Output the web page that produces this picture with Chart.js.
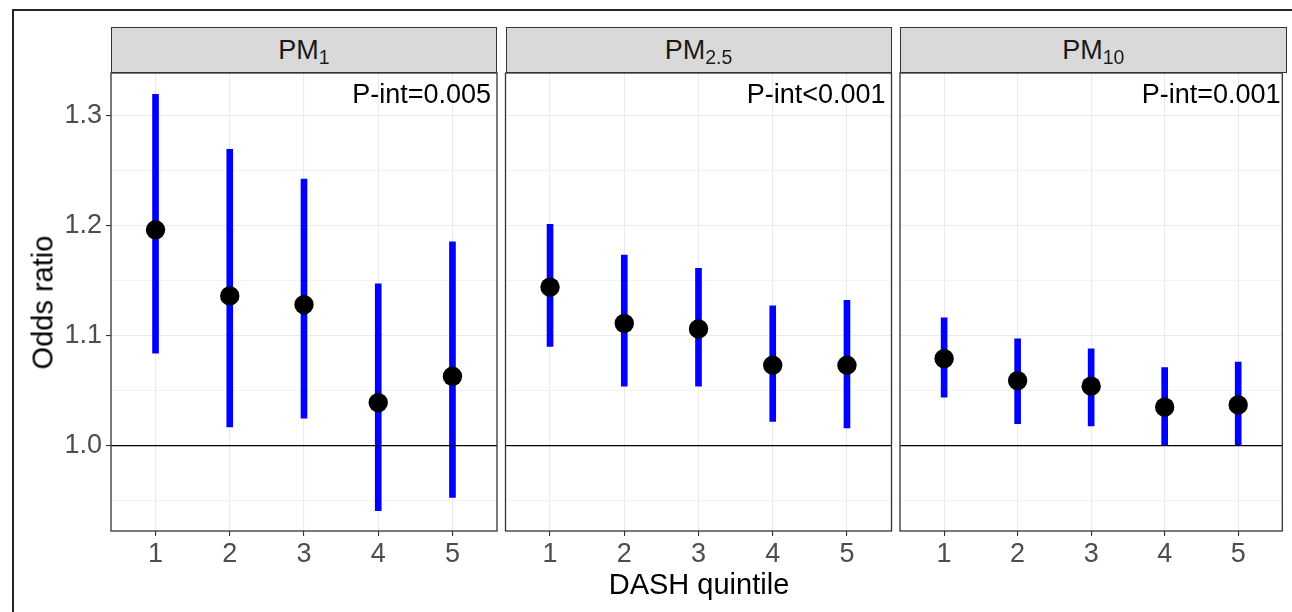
<!DOCTYPE html>
<html>
<head>
<meta charset="utf-8">
<script src="https://cdn.jsdelivr.net/npm/chart.js@4.4.1/dist/chart.umd.min.js"></script>
<style>
  body { margin: 0; background: #fff; font-family: "Liberation Sans", Arial, sans-serif; }
  #page { position: relative; width: 1292px; height: 612px; overflow: hidden; }
  #frame { position: absolute; left: 12px; top: 9px; width: 1400px; height: 700px;
           border-top: 2px solid #262626; border-left: 2px solid #262626; }
  canvas { position: absolute; left: 0; top: 0; }
  .strip { position: absolute; top: 27px; height: 46px; box-sizing: border-box;
           background: #d9d9d9; border: 1.3px solid #333; color: #1a1a1a;
           font-size: 27px; line-height: 44px; text-align: center; }
  .strip span { font-size: 19.5px; position: relative; top: 5px; }
  .pint { position: absolute; top: 80.5px; font-size: 27px; line-height: 27px;
          color: #000; text-align: right; white-space: nowrap; }
  .title { position: absolute; font-size: 29px; line-height: 29px; color: #000;
           text-align: center; white-space: nowrap; }
</style>
</head>
<body>
<div id="page">
  <div id="frame"></div>
</div>
<script>
// DASH quintiles
var quintiles = [1, 2, 3, 4, 5];

// odds ratios and 95% CI per pollutant
var pm1Or  = [1.196, 1.136, 1.128, 1.039, 1.063];
var pm1Lo  = [1.084, 1.017, 1.025, 0.941, 0.953];
var pm1Hi  = [1.319, 1.269, 1.242, 1.147, 1.185];

var pm25Or = [1.144, 1.111, 1.106, 1.073, 1.073];
var pm25Lo = [1.090, 1.054, 1.054, 1.022, 1.016];
var pm25Hi = [1.201, 1.173, 1.161, 1.127, 1.132];

var pm10Or = [1.079, 1.059, 1.054, 1.035, 1.037];
var pm10Lo = [1.044, 1.020, 1.018, 1.000, 1.000];
var pm10Hi = [1.116, 1.097, 1.088, 1.071, 1.076];

var panelNames = ['PM<span>1</span>', 'PM<span>2.5</span>', 'PM<span>10</span>'];
var pintLabels = ['P-int=0.005', 'P-int<0.001', 'P-int=0.001'];
var refValue = 1.0;

var W = 1292, H = 612;
var plotTop = 73, plotBottom = 531;
var panels = [
  { left: 111,   right: 497,    or: pm1Or,  lo: pm1Lo,  hi: pm1Hi },
  { left: 505.5, right: 891.5,  or: pm25Or, lo: pm25Lo, hi: pm25Hi },
  { left: 900,   right: 1286.5, or: pm10Or, lo: pm10Lo, hi: pm10Hi }
];

var isMajor = function(v) {
  return Math.abs(v * 10 - Math.round(v * 10)) < 1e-6;
};

// box round each panel, like ggplot's panel.border
var panelBox = {
  id: 'panelBox',
  afterDraw: function(chart) {
    var a = chart.chartArea, c = chart.ctx;
    c.save();
    c.strokeStyle = '#333333';
    c.lineWidth = 1.3;
    c.strokeRect(a.left, a.top, a.right - a.left, a.bottom - a.top);
    c.restore();
  }
};

var page = document.getElementById('page');

panels.forEach(function(p, k) {
  var canvas = document.createElement('canvas');
  canvas.width = W;
  canvas.height = H;
  page.appendChild(canvas);

  var yWidth = k === 0 ? p.left : 0;

  new Chart(canvas.getContext('2d'), {
    type: 'scatter',
    data: {
      datasets: [
        {
          type: 'scatter',
          data: quintiles.map(function(q, i) { return { x: q, y: p.or[i] }; }),
          backgroundColor: '#000000',
          borderWidth: 0,
          pointRadius: 9.7,
          pointHoverRadius: 9.7,
          order: 0
        },
        {
          type: 'line',
          data: [{ x: 0.4, y: refValue }, { x: 5.6, y: refValue }],
          borderColor: '#000000',
          borderWidth: 1.3,
          pointRadius: 0,
          order: 1
        },
        {
          type: 'bar',
          data: quintiles.map(function(q, i) { return { x: q, y: [p.lo[i], p.hi[i]] }; }),
          backgroundColor: '#0000ff',
          borderWidth: 0,
          barThickness: 6,
          order: 2
        }
      ]
    },
    options: {
      responsive: false,
      animation: false,
      devicePixelRatio: 1,
      layout: { padding: { left: k === 0 ? 0 : p.left, right: W - p.right, top: plotTop, bottom: 0 } },
      plugins: { legend: { display: false }, tooltip: { enabled: false } },
      scales: {
        x: {
          type: 'linear',
          min: 0.4,
          max: 5.6,
          offset: false,
          afterFit: function(s) { s.height = H - plotBottom; },
          border: { display: false },
          grid: { color: '#ebebeb', lineWidth: 1.1, tickColor: '#333333', tickLength: 5, offset: false },
          ticks: {
            stepSize: 1,
            includeBounds: false,
            autoSkip: false,
            maxRotation: 0,
            padding: 2,
            color: '#4d4d4d',
            font: { family: 'Liberation Sans', size: 27 }
          }
        },
        y: {
          min: 0.9225,
          max: 1.3384,
          afterFit: function(s) { s.width = yWidth; },
          border: { display: false },
          grid: {
            color: '#ebebeb',
            lineWidth: function(c) { return c.tick && isMajor(c.tick.value) ? 1.1 : 0.6; },
            drawTicks: k === 0,
            tickLength: 5,
            tickWidth: 1.1,
            tickColor: function(c) { return c.tick && isMajor(c.tick.value) ? '#333333' : 'rgba(0,0,0,0)'; }
          },
          ticks: {
            display: k === 0,
            stepSize: 0.05,
            includeBounds: false,
            autoSkip: false,
            padding: 4,
            color: '#4d4d4d',
            font: { family: 'Liberation Sans', size: 27 },
            callback: function(v) { return isMajor(v) ? v.toFixed(1) : ''; }
          }
        }
      }
    },
    plugins: [panelBox]
  });

  var strip = document.createElement('div');
  strip.className = 'strip';
  strip.style.left = p.left + 'px';
  strip.style.width = (p.right - p.left) + 'px';
  strip.innerHTML = panelNames[k];
  page.appendChild(strip);

  var pint = document.createElement('div');
  pint.className = 'pint';
  pint.style.right = (W - p.right + 6) + 'px';
  pint.textContent = pintLabels[k];
  page.appendChild(pint);
});

var xTitle = document.createElement('div');
xTitle.className = 'title';
xTitle.style.left = '499px';
xTitle.style.width = '400px';
xTitle.style.top = '569.5px';
xTitle.textContent = 'DASH quintile';
page.appendChild(xTitle);

var yTitle = document.createElement('div');
yTitle.className = 'title';
yTitle.style.left = (43.25 - 100) + 'px';
yTitle.style.width = '200px';
yTitle.style.top = (302.5 - 14.5) + 'px';
yTitle.style.transform = 'rotate(-90deg)';
yTitle.textContent = 'Odds ratio';
page.appendChild(yTitle);
</script>
</body>
</html>
